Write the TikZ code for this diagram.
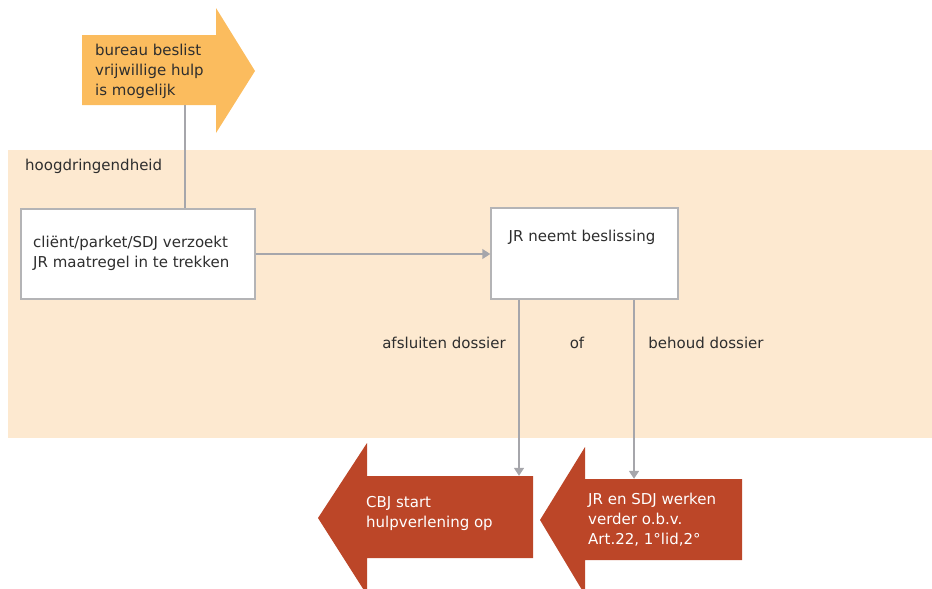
\documentclass[tikz,border=0pt]{standalone}
\usepackage{fontspec}
\setmainfont{DejaVu Sans}
\usetikzlibrary{arrows.meta}
\definecolor{bgpeach}{HTML}{FDE9D0}
\definecolor{orangefill}{HTML}{FBBC5E}
\definecolor{redfill}{HTML}{BC4628}
\definecolor{linegray}{HTML}{A6A6AB}
\definecolor{boxgray}{HTML}{B4B4B6}
\definecolor{txt}{HTML}{2E2E2E}
\begin{document}
\begin{tikzpicture}[x=1pt,y=-1pt,
  every node/.style={font=\fontsize{15}{20}\selectfont, text=txt},
  whitebox/.style={draw=boxgray, line width=1.5pt, fill=white, inner sep=0pt},
  body/.style={inner sep=0pt, align=left},
  conn/.style={draw=linegray, line width=1.5pt},
  tip/.style={-{Triangle[width=10pt,length=8pt]}},
  lbl/.style={inner sep=0pt}]
\useasboundingbox (0,0) rectangle (932,589);
% urgency band
\fill[bgpeach] (8,150) rectangle (932,438);
\node[lbl, anchor=west] (hoog) at (25,166) {hoogdringendheid};

% orange arrow: bureau decision
\fill[orangefill] (82,35) -- (216,35) -- (216,8) -- (255,71) -- (216,133) -- (216,105) -- (82,105) -- cycle;
\node[body, minimum width=134pt, minimum height=70pt] (obody) at (149,70) {};
\node[lbl, anchor=west, align=left] (otext) at (95,71) {bureau beslist\\vrijwillige hulp\\is mogelijk};

% request box and decision box
\node[whitebox, minimum width=234pt, minimum height=90pt] (box1) at (138,254) {};
\node[lbl, anchor=west, align=left] (box1t) at (33,253) {cliënt/parket/SDJ verzoekt\\JR maatregel in te trekken};
\node[whitebox, minimum width=187pt, minimum height=91pt] (box2) at (584.5,253.5) {};
\node[lbl] (box2t) at (582,237) {JR neemt beslissing};

% red arrows: outcomes
\fill[redfill] (533,476) -- (367,476) -- (367,443) -- (318,518) -- (367,595) -- (367,558) -- (533,558) -- cycle;
\node[body, minimum width=166pt, minimum height=82pt] (r1body) at (450,517) {};
\node[lbl, anchor=west, align=left, text=white] (r1t) at (366,513) {CBJ start\\hulpverlening op};
\fill[redfill] (742,479) -- (585,479) -- (585,447) -- (540,520) -- (585,595) -- (585,560) -- (742,560) -- cycle;
\node[body, minimum width=157pt, minimum height=81pt] (r2body) at (663.5,519.5) {};
\node[lbl, anchor=west, align=left, text=white] (r2t) at (588,520) {JR en SDJ werken\\verder o.b.v.\\Art.22, 1°lid,2°};

% connector helpers
\coordinate (c1) at (185,0);
\coordinate (d1) at (519,0);
\coordinate (d2) at (634,0);

% connectors
\draw[conn] (obody.south -| c1) -- (box1.north -| c1);
\draw[conn, tip] (box1.east) -- (box1.east -| box2.west);
\draw[conn, tip] (box2.south -| d1) -- (r1body.north -| d1);
\draw[conn, tip] (box2.south -| d2) -- (r2body.north -| d2);

% branch labels
\node[lbl] (afs) at (444,343) {afsluiten dossier};
\node[lbl] (of) at (577,343) {of};
\node[lbl] (beh) at (706,343) {behoud dossier};
\end{tikzpicture}
\end{document}
